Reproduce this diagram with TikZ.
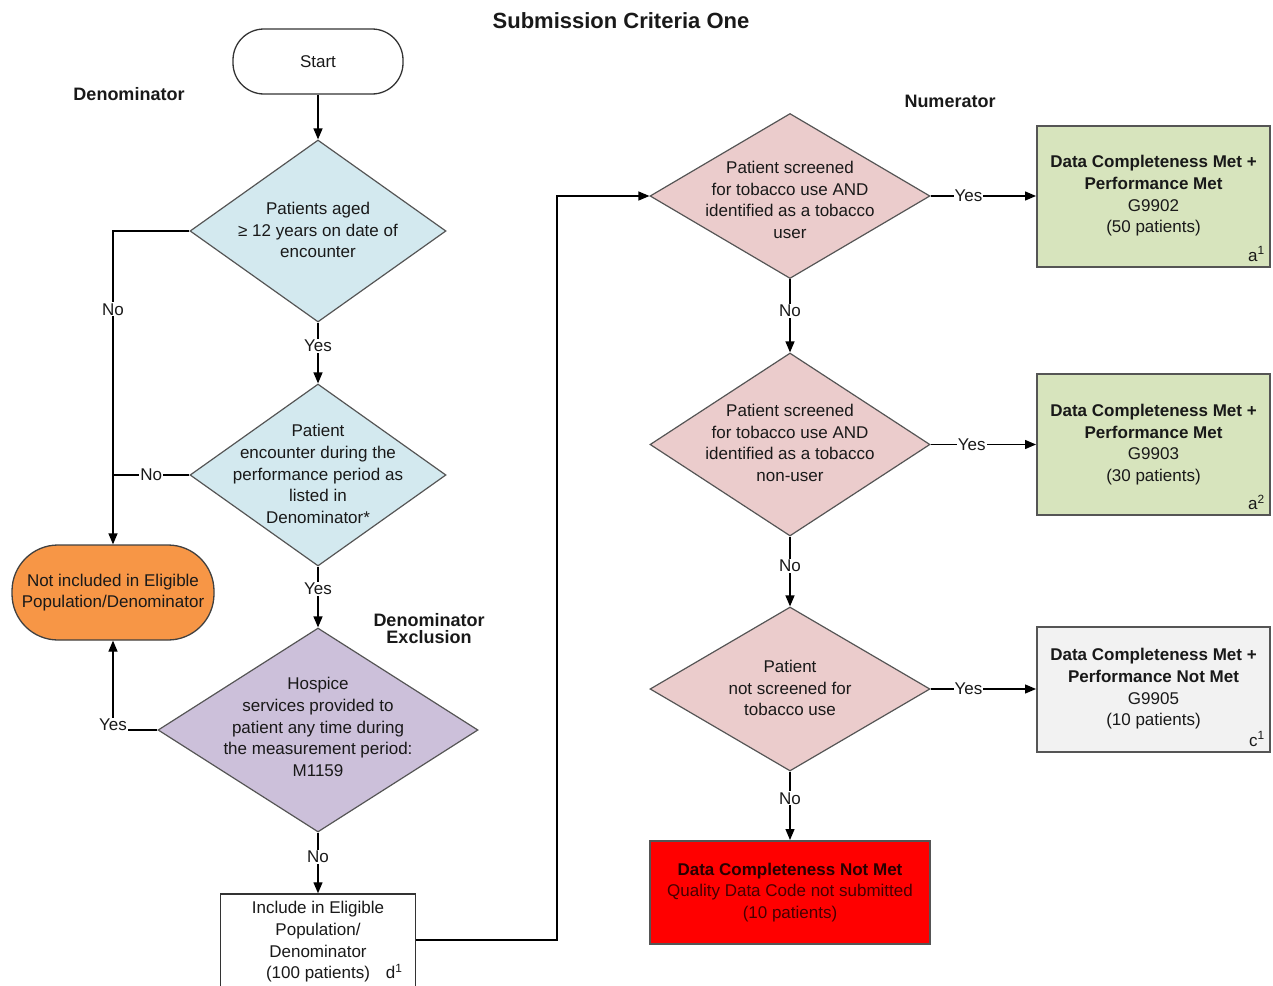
\documentclass[tikz,border=0pt]{standalone}
\usepackage{fontspec}
\setmainfont{Liberation Sans}
\usetikzlibrary{shapes.geometric,arrows.meta,calc}
\definecolor{dblue}{HTML}{D3E9EF}
\definecolor{dpurple}{HTML}{CCC0DA}
\definecolor{dpink}{HTML}{EBCCCC}
\definecolor{bgreen}{HTML}{D7E4BD}
\definecolor{bgray}{HTML}{F2F2F2}
\definecolor{orng}{HTML}{F79646}
\definecolor{edgegray}{HTML}{555555}
\definecolor{txtred}{RGB}{70,0,0}
\definecolor{txtdark}{RGB}{40,0,0}
\begin{document}
\begin{tikzpicture}[x=1pt,y=-1pt,
  every node/.style={font=\fontsize{17}{21.7}\selectfont, text=black!90},
  dia/.style={diamond, draw=edgegray, line width=1.2pt, minimum width=#1, inner sep=0pt},
  dtxt/.style={align=center, inner sep=0pt},
  box/.style={rectangle, draw=edgegray, line width=2pt, align=center, minimum width=233pt},
  term/.style={rectangle, draw=black!80, line width=1.3pt, align=center},
  arr/.style={line width=1.3pt, -{Triangle[length=11pt,width=9pt]}},
  conn/.style={line width=1.3pt},
  lbl/.style={fill=white, inner sep=1pt},
  ttl/.style={font=\bfseries\fontsize{18}{17}\selectfont, align=center},
  sup/.style={anchor=south east, inner sep=6pt}
]
\useasboundingbox (0,0) rectangle (1273,985);
\clip (0,0) rectangle (1273,985);

% titles
\node[font=\bfseries\fontsize{22}{26}\selectfont] (title) at (621,21) {Submission Criteria One};
\node[ttl] (den) at (129,94) {Denominator};
\node[ttl] (num) at (950,101) {Numerator};
\node[ttl] (dex) at (429,629) {Denominator\\Exclusion};

% start
\node[term, rounded corners=31pt, minimum width=170pt, minimum height=65pt] (start) at (318,61.5) {Start};

% left column diamonds
\node[dia=256pt, minimum height=182pt, fill=dblue] (d1) at (318,231) {};
\node[dtxt] (d1t) at (318,230) {Patients aged\\≥ 12 years on date of\\encounter};

\node[dia=256pt, minimum height=182pt, fill=dblue] (d2) at (318,475) {};
\node[dtxt] (d2t) at (318,474) {Patient\\encounter during the\\performance period as\\listed in\\Denominator*};

\node[dia=320pt, minimum height=204pt, fill=dpurple] (d3) at (318,730) {};
\node[dtxt] (d3t) at (318,727) {Hospice\\services provided to\\patient any time during\\the measurement period:\\M1159};

% not included terminal
\node[term, draw=black!75, fill=orng, rounded corners=46pt, minimum width=202pt, minimum height=95pt] (nie) at (113,592.5) {Not included in Eligible\\Population/Denominator};

% include box
\node[rectangle, draw=black!80, line width=1.5pt, align=center, minimum width=195pt, minimum height=96pt, fill=white] (inc) at (318,942)
  {Include in Eligible\\Population/\\Denominator\\(100 patients)\rlap{\hspace{16pt}d\textsuperscript{1}}};

% right column diamonds
\node[dia=280pt, minimum height=165pt, fill=dpink] (d4) at (790,196) {};
\node[dtxt] (d4t) at (790,200) {Patient screened\\for tobacco use AND\\identified as a tobacco\\user};

\node[dia=280pt, minimum height=183pt, fill=dpink] (d5) at (790,444.5) {};
\node[dtxt] (d5t) at (790,443) {Patient screened\\for tobacco use AND\\identified as a tobacco\\non-user};

\node[dia=280pt, minimum height=164pt, fill=dpink] (d6) at (790,689) {};
\node[dtxt] (d6t) at (790,688) {Patient\\not screened for\\tobacco use};

% result boxes
\node[box, fill=bgreen, minimum height=141pt,
  label={[sup]south east:a\textsuperscript{1}}] (b1) at (1153.5,196)
  {\textbf{Data Completeness Met +}\\\textbf{Performance Met}\\G9902\\(50 patients)};
\node[box, fill=bgreen, minimum height=141pt,
  label={[sup]south east:a\textsuperscript{2}}] (b2) at (1153.5,444.5)
  {\textbf{Data Completeness Met +}\\\textbf{Performance Met}\\G9903\\(30 patients)};
\node[box, fill=bgray, minimum height=125pt,
  label={[sup]south east:c\textsuperscript{1}}] (b3) at (1153.5,689)
  {\textbf{Data Completeness Met +}\\\textbf{Performance Not Met}\\G9905\\(10 patients)};
\node[box, fill=red, minimum width=280pt, minimum height=103pt, text=txtred] (red) at (790,892.5)
  {\textcolor{txtdark}{\textbf{Data Completeness Not Met}}\\Quality Data Code not submitted\\(10 patients)};

% connectors, left
\draw[arr] (start) -- (d1);
\draw[arr] (d1) -- node[lbl,pos=0.38]{Yes} (d2);
\draw[arr] (d2) -- node[lbl,pos=0.37]{Yes} (d3);
\draw[arr] (d3) -- node[lbl,pos=0.4]{No} (inc);
\draw[arr] (d1.west) -| node[lbl,pos=0.625]{No} (nie.north);
\coordinate (j2) at (nie.north |- d2.west);
\draw[conn] (d2.west) -- node[lbl,pos=0.5]{No} (j2);
\draw[arr] (d3.west) -| node[lbl,pos=0.5,yshift=5pt]{Yes} (nie.south);

% connector to numerator
\coordinate (c1) at (557,940);
\draw[arr] (inc.east |- c1) -- (c1) |- (d4.west);

% connectors, right
\draw[arr] (d4.east) -- node[lbl,pos=0.36]{Yes} (d4.east -| b1.west);
\draw[arr] (d4) -- node[lbl,pos=0.43]{No} (d5);
\draw[arr] (d5.east) -- node[lbl,pos=0.39]{Yes} (d5.east -| b2.west);
\draw[arr] (d5) -- node[lbl,pos=0.42]{No} (d6);
\draw[arr] (d6.east) -- node[lbl,pos=0.36]{Yes} (d6.east -| b3.west);
\draw[arr] (d6) -- node[lbl,pos=0.39]{No} (red);
\end{tikzpicture}
\end{document}
